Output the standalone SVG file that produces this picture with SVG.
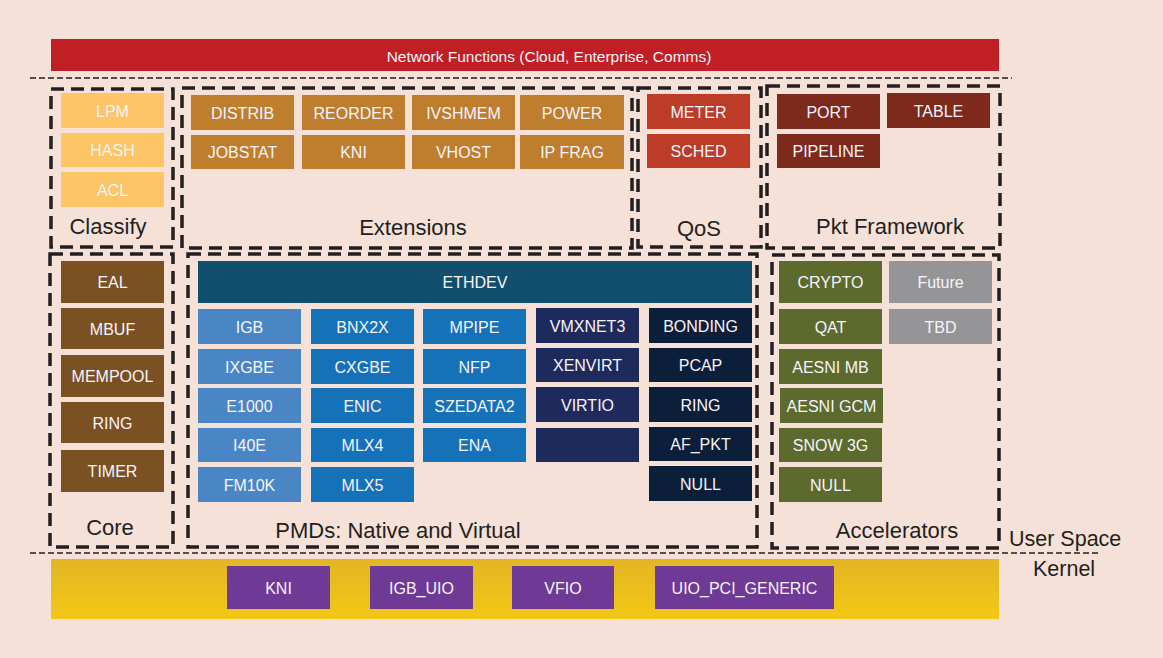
<svg xmlns="http://www.w3.org/2000/svg" width="1163" height="658" viewBox="0 0 1163 658">
<defs>
<linearGradient id="kg" x1="0" y1="0" x2="0" y2="1"><stop offset="0" stop-color="#e3b524"/><stop offset="1" stop-color="#f2c815"/></linearGradient>
<style>
.t{font-family:"Liberation Sans",Arial,sans-serif;font-size:16px;fill:#f7f3fb;text-anchor:middle}
.lbl{font-family:"Liberation Sans",Arial,sans-serif;font-size:22px;fill:#231f20;text-anchor:middle}
.grp{fill:none;stroke:#231f20;stroke-width:3.5;stroke-dasharray:13 7}
.thin{fill:none;stroke:#231f20;stroke-width:1.6;stroke-dasharray:6 3}
.cl{fill:#fdc566}.ex{fill:#bf7e2e}.qo{fill:#bd3c28}.pk{fill:#7d2a1c}.co{fill:#7b5124}
.p1{fill:#4a86c5}.p2{fill:#1571b8}.p4{fill:#1f2a5c}.p5{fill:#0c1f3a}
.ac{fill:#5c6a2e}.gr{fill:#959597}.pu{fill:#6f3a96}
</style>
</defs>
<rect width="1163" height="658" fill="#f5e1d8"/>
<g id="network-functions">
<rect x="51" y="39" width="948" height="32" fill="#c01f26"/>
<text class="t" x="549" y="61.5" style="font-size:15.5px">Network Functions (Cloud, Enterprise, Comms)</text>
</g>
<g id="separators">
<line class="thin" x1="30" y1="78" x2="1012" y2="78"/>
<line class="thin" x1="30" y1="553" x2="1098" y2="553"/>
<text class="lbl" x="1009" y="546" style="text-anchor:start;font-size:21.5px">User Space</text>
<text class="lbl" x="1033" y="576" style="text-anchor:start;font-size:21.5px">Kernel</text>
</g>
<g id="classify">
<rect class="grp" x="51" y="89" width="122" height="158"/>
<rect class="cl" x="61" y="93" width="103" height="35"/><text class="t" x="112.5" y="116.5">LPM</text>
<rect class="cl" x="61" y="133" width="103" height="34"/><text class="t" x="112.5" y="156">HASH</text>
<rect class="cl" x="61" y="172" width="103" height="35"/><text class="t" x="112.5" y="195.5">ACL</text>
<text class="lbl" x="108" y="234">Classify</text>
</g>
<g id="extensions">
<rect class="grp" x="182" y="88" width="450" height="160"/>
<rect class="ex" x="191" y="95" width="103" height="35"/><text class="t" x="242.5" y="118.5">DISTRIB</text>
<rect class="ex" x="302" y="95" width="103" height="35"/><text class="t" x="353.5" y="118.5">REORDER</text>
<rect class="ex" x="412" y="95" width="103" height="35"/><text class="t" x="463.5" y="118.5">IVSHMEM</text>
<rect class="ex" x="520" y="95" width="104" height="35"/><text class="t" x="572" y="118.5">POWER</text>
<rect class="ex" x="191" y="135" width="103" height="34"/><text class="t" x="242.5" y="158">JOBSTAT</text>
<rect class="ex" x="302" y="135" width="103" height="34"/><text class="t" x="353.5" y="158">KNI</text>
<rect class="ex" x="412" y="135" width="103" height="34"/><text class="t" x="463.5" y="158">VHOST</text>
<rect class="ex" x="520" y="135" width="104" height="34"/><text class="t" x="572" y="158">IP FRAG</text>
<text class="lbl" x="413" y="235">Extensions</text>
</g>
<g id="qos">
<rect class="grp" x="638" y="88" width="123" height="159"/>
<rect class="qo" x="647" y="94" width="103" height="35"/><text class="t" x="698.5" y="117.5">METER</text>
<rect class="qo" x="647" y="134" width="103" height="34"/><text class="t" x="698.5" y="157">SCHED</text>
<text class="lbl" x="699" y="236">QoS</text>
</g>
<g id="pkt-framework">
<rect class="grp" x="767" y="86" width="233" height="162"/>
<rect class="pk" x="777" y="94" width="103" height="35"/><text class="t" x="828.5" y="117.5">PORT</text>
<rect class="pk" x="887" y="93" width="103" height="35"/><text class="t" x="938.5" y="116.5">TABLE</text>
<rect class="pk" x="777" y="134" width="103" height="34"/><text class="t" x="828.5" y="157">PIPELINE</text>
<text class="lbl" x="890" y="234">Pkt Framework</text>
</g>
<g id="core">
<rect class="grp" x="50" y="254" width="123" height="293"/>
<rect class="co" x="61" y="261" width="103" height="42"/><text class="t" x="112.5" y="288">EAL</text>
<rect class="co" x="61" y="308" width="103" height="41"/><text class="t" x="112.5" y="334.5">MBUF</text>
<rect class="co" x="61" y="355" width="103" height="42"/><text class="t" x="112.5" y="382">MEMPOOL</text>
<rect class="co" x="61" y="402" width="103" height="41"/><text class="t" x="112.5" y="428.5">RING</text>
<rect class="co" x="61" y="450" width="103" height="42"/><text class="t" x="112.5" y="477">TIMER</text>
<text class="lbl" x="110" y="535">Core</text>
</g>
<g id="pmds">
<rect class="grp" x="188" y="254" width="569" height="293"/>
<rect x="198" y="261" width="554" height="42" fill="#124f6e"/><text class="t" x="475" y="288">ETHDEV</text>
<rect class="p1" x="198" y="309" width="103" height="35"/><text class="t" x="249.5" y="332.5">IGB</text>
<rect class="p1" x="198" y="349" width="103" height="35"/><text class="t" x="249.5" y="372.5">IXGBE</text>
<rect class="p1" x="198" y="388" width="103" height="35"/><text class="t" x="249.5" y="411.5">E1000</text>
<rect class="p1" x="198" y="428" width="103" height="34"/><text class="t" x="249.5" y="451">I40E</text>
<rect class="p1" x="198" y="467" width="103" height="35"/><text class="t" x="249.5" y="490.5">FM10K</text>
<rect class="p2" x="311" y="309" width="103" height="35"/><text class="t" x="362.5" y="332.5">BNX2X</text>
<rect class="p2" x="311" y="349" width="103" height="35"/><text class="t" x="362.5" y="372.5">CXGBE</text>
<rect class="p2" x="311" y="388" width="103" height="35"/><text class="t" x="362.5" y="411.5">ENIC</text>
<rect class="p2" x="311" y="428" width="103" height="34"/><text class="t" x="362.5" y="451">MLX4</text>
<rect class="p2" x="311" y="467" width="103" height="35"/><text class="t" x="362.5" y="490.5">MLX5</text>
<rect class="p2" x="423" y="309" width="103" height="35"/><text class="t" x="474.5" y="332.5">MPIPE</text>
<rect class="p2" x="423" y="349" width="103" height="35"/><text class="t" x="474.5" y="372.5">NFP</text>
<rect class="p2" x="423" y="388" width="103" height="35"/><text class="t" x="474.5" y="411.5">SZEDATA2</text>
<rect class="p2" x="423" y="428" width="103" height="34"/><text class="t" x="474.5" y="451">ENA</text>
<rect class="p4" x="536" y="308" width="103" height="35"/><text class="t" x="587.5" y="331.5">VMXNET3</text>
<rect class="p4" x="536" y="348" width="103" height="34"/><text class="t" x="587.5" y="371">XENVIRT</text>
<rect class="p4" x="536" y="387" width="103" height="35"/><text class="t" x="587.5" y="410.5">VIRTIO</text>
<rect class="p4" x="536" y="428" width="103" height="34"/>
<rect class="p5" x="649" y="308" width="103" height="35"/><text class="t" x="700.5" y="331.5">BONDING</text>
<rect class="p5" x="649" y="348" width="103" height="34"/><text class="t" x="700.5" y="371">PCAP</text>
<rect class="p5" x="649" y="387" width="103" height="35"/><text class="t" x="700.5" y="410.5">RING</text>
<rect class="p5" x="649" y="427" width="103" height="34"/><text class="t" x="700.5" y="450">AF_PKT</text>
<rect class="p5" x="649" y="466" width="103" height="35"/><text class="t" x="700.5" y="489.5">NULL</text>
<text class="lbl" x="398" y="538">PMDs: Native and Virtual</text>
</g>
<g id="accelerators">
<rect class="grp" x="772" y="255" width="227" height="293"/>
<rect class="ac" x="779" y="261" width="103" height="42"/><text class="t" x="830.5" y="288">CRYPTO</text>
<rect class="gr" x="889" y="261" width="103" height="42"/><text class="t" x="940.5" y="288">Future</text>
<rect class="ac" x="779" y="309" width="103" height="35"/><text class="t" x="830.5" y="332.5">QAT</text>
<rect class="gr" x="889" y="309" width="103" height="35"/><text class="t" x="940.5" y="332.5">TBD</text>
<rect class="ac" x="779" y="349" width="103" height="35"/><text class="t" x="830.5" y="372.5">AESNI MB</text>
<rect class="ac" x="780" y="388" width="103" height="35"/><text class="t" x="831.5" y="411.5">AESNI GCM</text>
<rect class="ac" x="779" y="428" width="103" height="34"/><text class="t" x="830.5" y="451">SNOW 3G</text>
<rect class="ac" x="779" y="467" width="103" height="35"/><text class="t" x="830.5" y="490.5">NULL</text>
<text class="lbl" x="897" y="538">Accelerators</text>
</g>
<g id="kernel">
<rect x="51" y="559" width="948" height="60" fill="url(#kg)"/>
<rect class="pu" x="227" y="566" width="103" height="43"/><text class="t" x="278.5" y="593.5">KNI</text>
<rect class="pu" x="370" y="566" width="103" height="43"/><text class="t" x="421.5" y="593.5">IGB_UIO</text>
<rect class="pu" x="512" y="566" width="102" height="43"/><text class="t" x="563" y="593.5">VFIO</text>
<rect class="pu" x="655" y="566" width="179" height="43"/><text class="t" x="744.5" y="593.5">UIO_PCI_GENERIC</text>
</g>
<g id="connectors"/>
</svg>
